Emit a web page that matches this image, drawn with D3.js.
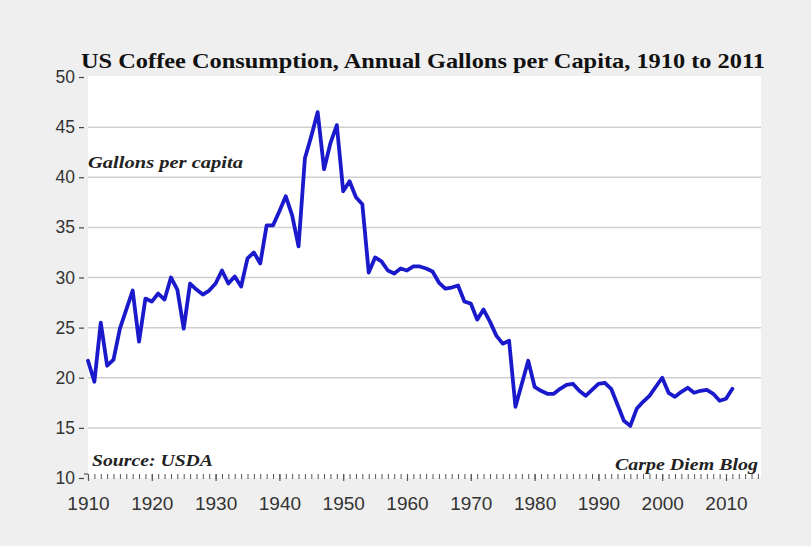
<!DOCTYPE html>
<html>
<head>
<meta charset="utf-8">
<script src="https://cdn.jsdelivr.net/npm/d3@7"></script>
<style>
  html, body { margin: 0; padding: 0; background: #efefef; }
  svg { display: block; }
</style>
</head>
<body>
<svg id="chart" width="811" height="546"></svg>
<script>
// ---- data ----
const years = [
  1910,1911,1912,1913,1914,1915,1916,1917,1918,1919,
  1920,1921,1922,1923,1924,1925,1926,1927,1928,1929,
  1930,1931,1932,1933,1934,1935,1936,1937,1938,1939,
  1940,1941,1942,1943,1944,1945,1946,1947,1948,1949,
  1950,1951,1952,1953,1954,1955,1956,1957,1958,1959,
  1960,1961,1962,1963,1964,1965,1966,1967,1968,1969,
  1970,1971,1972,1973,1974,1975,1976,1977,1978,1979,
  1980,1981,1982,1983,1984,1985,1986,1987,1988,1989,
  1990,1991,1992,1993,1994,1995,1996,1997,1998,1999,
  2000,2001,2002,2003,2004,2005,2006,2007,2008,2009,
  2010,2011
];
const gallons = [
  21.7,19.6,25.5,21.2,21.8,24.9,26.8,28.7,23.6,27.9,
  27.6,28.4,27.8,30.0,28.8,24.9,29.4,28.8,28.3,28.7,
  29.4,30.7,29.4,30.1,29.1,31.9,32.5,31.4,35.2,35.2,
  36.6,38.1,36.2,33.1,41.9,44.1,46.5,40.8,43.4,45.2,
  38.6,39.6,38.0,37.3,30.5,32.0,31.6,30.7,30.4,30.9,
  30.7,31.1,31.1,30.9,30.6,29.5,28.9,29.0,29.2,27.6,
  27.4,25.8,26.8,25.6,24.2,23.4,23.7,17.1,19.4,21.7,
  19.1,18.7,18.4,18.4,18.9,19.3,19.4,18.7,18.2,18.8,
  19.4,19.5,18.9,17.3,15.7,15.2,16.9,17.6,18.2,19.1,
  20.0,18.5,18.1,18.6,19.0,18.5,18.7,18.8,18.4,17.7,
  17.9,18.9
];
const yTicks = [10, 15, 20, 25, 30, 35, 40, 45, 50];
const gridValues = [15, 20, 25, 30, 35, 40, 45];
const xMajorTicks = [1910,1920,1930,1940,1950,1960,1970,1980,1990,2000,2010];
const xMinorTicks = d3.range(1910, 2016);

const titleText = "US Coffee Consumption, Annual Gallons per Capita, 1910 to 2011";
const yLabelText = "Gallons per capita";
const sourceText = "Source: USDA";
const creditText = "Carpe Diem Blog";

// ---- layout ----
const svg = d3.select("#chart");
const panel = { left: 88, right: 761, top: 76, bottom: 478 };

const x = d3.scaleLinear().domain([1910, 2010]).range([88, 726]);
const y = d3.scaleLinear().domain([10, 50]).range([478, 77]);

// white plot panel
svg.append("rect")
  .attr("x", panel.left).attr("y", panel.top)
  .attr("width", panel.right - panel.left)
  .attr("height", panel.bottom - panel.top)
  .attr("fill", "#ffffff");

// gridlines
svg.append("g").selectAll("line").data(gridValues).join("line")
  .attr("x1", panel.left).attr("x2", panel.right)
  .attr("y1", d => y(d)).attr("y2", d => y(d))
  .attr("stroke", "#cfcfcf").attr("stroke-width", 1.5);

// y axis (ticks as short dashes, no domain line)
const yAxis = d3.axisLeft(y).tickValues(yTicks).tickSize(5).tickPadding(4);
const gy = svg.append("g").attr("transform", `translate(${panel.left - 4},0)`).call(yAxis);
gy.select(".domain").remove();
gy.selectAll(".tick line").attr("stroke", "#444").attr("stroke-width", 1.2);
gy.selectAll(".tick text")
  .attr("font-family", "'Liberation Sans', Arial, sans-serif")
  .attr("font-size", 17.5).attr("fill", "#333");

// x axis: minor ticks per year, major per decade
const gxMinor = svg.append("g").attr("transform", `translate(0,${y(10) - 4})`)
  .call(d3.axisBottom(x).tickValues(xMinorTicks).tickSize(5).tickFormat(""));
gxMinor.select(".domain").remove();
gxMinor.selectAll(".tick line").attr("stroke", "#555").attr("stroke-width", 1);

const gx = svg.append("g").attr("transform", `translate(0,${y(10) - 4})`)
  .call(d3.axisBottom(x).tickValues(xMajorTicks).tickSize(7).tickPadding(16).tickFormat(d3.format("d")));
gx.select(".domain").remove();
gx.selectAll(".tick line").attr("stroke", "#555").attr("stroke-width", 1.2);
gx.selectAll(".tick text")
  .attr("font-family", "'Liberation Sans', Arial, sans-serif")
  .attr("font-size", 19).attr("fill", "#333");

// small corner stroke at the axis start
svg.append("line")
  .attr("x1", panel.left - 4).attr("x2", x(1910))
  .attr("y1", y(10) - 4).attr("y2", y(10) - 4)
  .attr("stroke", "#555").attr("stroke-width", 1.2);

// line
const line = d3.line()
  .x((d, i) => x(years[i]))
  .y(d => y(d));
svg.append("path")
  .datum(gallons)
  .attr("d", line)
  .attr("fill", "none")
  .attr("stroke", "#1a1acc")
  .attr("stroke-width", 3.8)
  .attr("stroke-linejoin", "round")
  .attr("stroke-linecap", "round");

// title
svg.append("text")
  .attr("x", 81).attr("y", 68)
  .attr("font-family", "'Liberation Serif', 'DejaVu Serif', serif")
  .attr("font-weight", "bold")
  .attr("font-size", 21)
  .attr("fill", "#111")
  .attr("textLength", 684)
  .attr("lengthAdjust", "spacingAndGlyphs")
  .text(titleText);

// annotations
const noteFont = "'Liberation Serif', 'DejaVu Serif', serif";
svg.append("text")
  .attr("x", 88).attr("y", 168)
  .attr("font-family", noteFont).attr("font-style", "italic").attr("font-weight", "bold")
  .attr("font-size", 17).attr("fill", "#222")
  .attr("textLength", 155).attr("lengthAdjust", "spacingAndGlyphs")
  .text(yLabelText);

svg.append("text")
  .attr("x", 92).attr("y", 466)
  .attr("font-family", noteFont).attr("font-style", "italic").attr("font-weight", "bold")
  .attr("font-size", 17).attr("fill", "#222")
  .attr("textLength", 121).attr("lengthAdjust", "spacingAndGlyphs")
  .text(sourceText);

svg.append("text")
  .attr("x", 758).attr("y", 470)
  .attr("text-anchor", "end")
  .attr("font-family", noteFont).attr("font-style", "italic").attr("font-weight", "bold")
  .attr("font-size", 17).attr("fill", "#222")
  .attr("textLength", 143).attr("lengthAdjust", "spacingAndGlyphs")
  .text(creditText);
</script>
</body>
</html>
